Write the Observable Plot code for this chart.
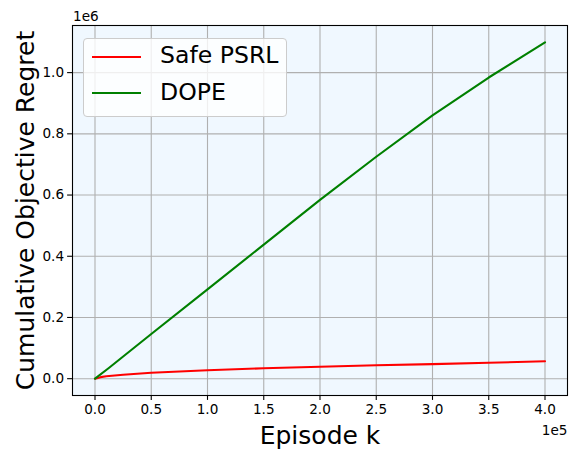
<!DOCTYPE html>
<html>
<head>
<meta charset="utf-8">
<script src="https://cdn.jsdelivr.net/npm/d3@7"></script>
<script src="https://cdn.jsdelivr.net/npm/@observablehq/plot@0.6"></script>
<style>
  html, body { margin: 0; padding: 0; background: #ffffff; }
  #wrap { position: relative; width: 577px; height: 458px; font-family: "DejaVu Sans", sans-serif; color: #000; }
  #legend { position: absolute; left: 83px; top: 37.5px; width: 202px; height: 77px;
            border: 1px solid #cccccc; border-radius: 4px; background: rgba(255,255,255,0.8); }
  .lg-line { position: absolute; height: 2px; width: 49px; left: 92px; }
  .lg-text { position: absolute; left: 160px; font-size: 23.6px; line-height: 23.6px; white-space: nowrap; }
</style>
</head>
<body>
<div id="wrap"></div>
<script>
// ---- data ----
const seriesNames = ["Safe PSRL", "DOPE"];
const seriesColors = ["#ff0000", "#008000"];

const psrlEpisodes = [0, 5000, 10000, 25000, 50000, 100000, 150000, 200000, 250000, 300000, 350000, 400000];
const psrlRegret   = [0, 5000, 8000, 13000, 19500, 27500, 34000, 39000, 44000, 47500, 52000, 57000];

const dopeEpisodes = [0, 12000, 50000, 100000, 150000, 200000, 250000, 300000, 350000, 400000];
const dopeRegret   = [0, 34000, 146000, 292000, 438000, 584000, 725000, 860000, 984000, 1099000];

const xTicks = [0, 50000, 100000, 150000, 200000, 250000, 300000, 350000, 400000];
const yTicks = [0, 200000, 400000, 600000, 800000, 1000000];

const xLabel = "Episode k";
const yLabel = "Cumulative Objective Regret";
const xOffsetText = "1e5";
const yOffsetText = "1e6";

// ---- build table ----
const rows = [];
psrlEpisodes.forEach((e, i) => rows.push({series: seriesNames[0], k: e, r: psrlRegret[i]}));
dopeEpisodes.forEach((e, i) => rows.push({series: seriesNames[1], k: e, r: dopeRegret[i]}));

const chart = Plot.plot({
  width: 577,
  height: 458,
  marginLeft: 72,
  marginRight: 10,
  marginTop: 25,
  marginBottom: 63,
  style: { fontFamily: "DejaVu Sans, sans-serif", color: "#000", background: "transparent", overflow: "visible" },
  x: { domain: [-20000, 420000], label: null },
  y: { domain: [-54950, 1153950], label: null },
  color: { domain: seriesNames, range: seriesColors },
  marks: [
    Plot.frame({ fill: "#f0f8ff", stroke: null }),
    Plot.gridX(xTicks, { stroke: "#b0b0b0", strokeOpacity: 1, strokeWidth: 1.1 }),
    Plot.gridY(yTicks, { stroke: "#b0b0b0", strokeOpacity: 1, strokeWidth: 1.1 }),
    Plot.line(rows, { x: "k", y: "r", z: "series", stroke: "series", strokeWidth: 2.1, curve: "linear" }),
    Plot.frame({ stroke: "#000", strokeWidth: 1.1 }),
    Plot.axisX({ ticks: xTicks, tickFormat: d => (d / 1e5).toFixed(1), tickSize: 4.9, tickPadding: 3.5,
                 fontSize: 13.6, label: null, strokeWidth: 1.1 }),
    Plot.axisY({ ticks: yTicks, tickFormat: d => (d / 1e6).toFixed(1), tickSize: 4.9, tickPadding: 3.5,
                 fontSize: 13.6, label: null, strokeWidth: 1.1 }),
    Plot.text([xLabel], { frameAnchor: "bottom", lineAnchor: "middle", textAnchor: "middle", dy: 40, fontSize: 25, text: d => d }),
    Plot.text([yLabel], { frameAnchor: "left", lineAnchor: "middle", textAnchor: "middle", dx: -47, rotate: -90, fontSize: 25, text: d => d }),
    Plot.text([yOffsetText], { frameAnchor: "top-left", lineAnchor: "middle", textAnchor: "start", dx: 0.5, dy: -9, fontSize: 13.6, text: d => d }),
    Plot.text([xOffsetText], { frameAnchor: "bottom-right", lineAnchor: "middle", textAnchor: "end", dy: 35, fontSize: 13.6, text: d => d })
  ]
});

const wrap = document.getElementById("wrap");
wrap.appendChild(chart);

// legend (overlay, matplotlib-style)
const legend = document.createElement("div");
legend.id = "legend";
wrap.appendChild(legend);
const lineYs = [56, 91.7];
const textTops = [44.3, 81];
seriesNames.forEach((name, i) => {
  const ln = document.createElement("div");
  ln.className = "lg-line";
  ln.style.top = lineYs[i] + "px";
  ln.style.background = seriesColors[i];
  wrap.appendChild(ln);
  const tx = document.createElement("div");
  tx.className = "lg-text";
  tx.style.top = textTops[i] + "px";
  tx.textContent = name;
  wrap.appendChild(tx);
});
</script>
</body>
</html>
